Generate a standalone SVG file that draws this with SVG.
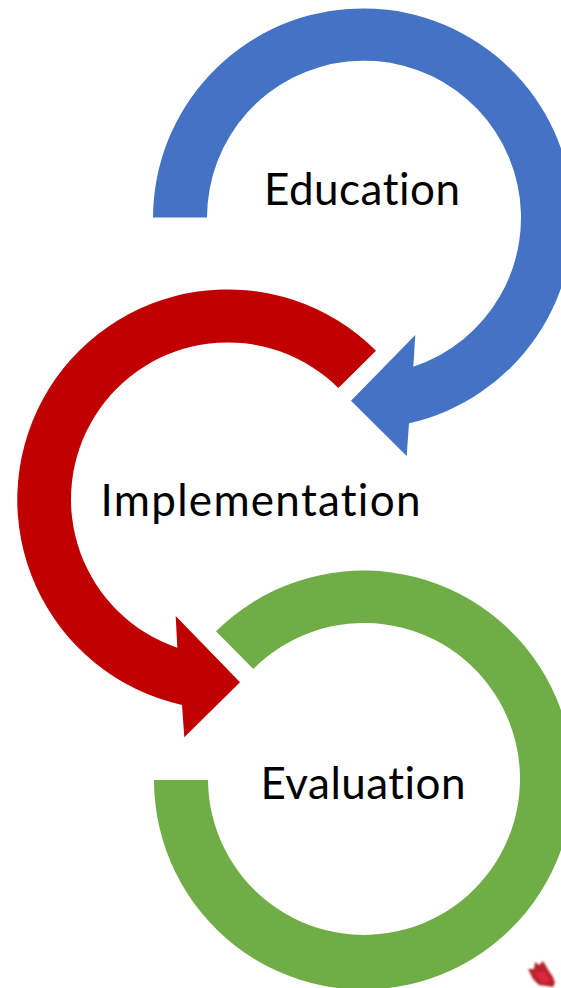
<svg xmlns="http://www.w3.org/2000/svg" width="561" height="988" viewBox="0 0 561 988">
  <style>
    .label { font-family: "Lato", "Open Sans", "Liberation Sans", sans-serif; font-size: 44px; fill: #000; font-variant-ligatures: none; }
  </style>
  <defs>
    <filter id="soft" x="-30%" y="-30%" width="160%" height="160%"><feGaussianBlur stdDeviation="1"/></filter>
  </defs>
  <rect width="561" height="988" fill="#fff"/>
  <g id="connectors">
    <path id="arrow-education" fill="#4472c4" d="M153 217.5 A210 210 0 1 1 409 423.3 L406.7 456 L351 400.7 L415.3 335 L413.3 366.7 A157 157 0 1 0 207 217.5 Z"/>
    <path id="arrow-implementation" fill="#c00000" d="M376 350.7 A210.3 210.3 0 1 0 182 705 L184.3 737.3 L240 682.3 L175.7 616 L177.3 647.7 A156.8 156.8 0 1 1 338.3 388 Z"/>
    <path id="arrow-evaluation" fill="#70ad47" d="M216 631.3 A209.5 209.5 0 1 1 154 780 L208 780 A156 156 0 1 0 253.3 669 Z"/>
  </g>
  <g id="node-education"><text class="label" x="264" y="204.5" textLength="196" lengthAdjust="spacing">Education</text></g>
  <g id="node-implementation"><text class="label" x="100.5" y="515.5" textLength="320" lengthAdjust="spacing">Implementation</text></g>
  <g id="node-evaluation"><text class="label" x="260.5" y="798.5" textLength="205" lengthAdjust="spacing">Evaluation</text></g>
  <g id="emblem" filter="url(#soft)">
    <path fill="#b8222e" d="M528 969 L534 969 L535 962 L539 965 L543 961 L546 966 L549 971 L553 977 L555 983 L553 987 L547 986 L539 985 L533 979 Z"/>
    <path fill="#e0283a" d="M535 973 L544 971 L550 981 L542 983 Z"/>
  </g>
</svg>
